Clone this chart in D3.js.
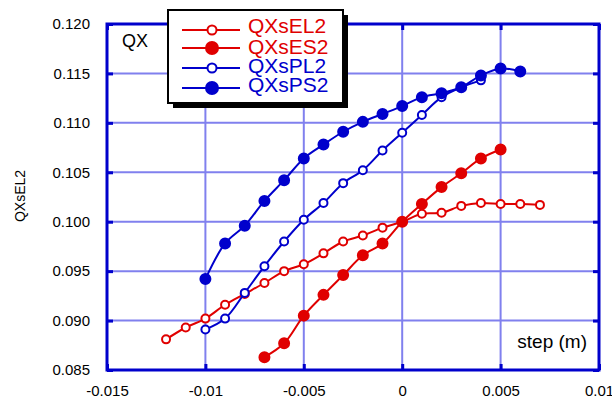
<!DOCTYPE html>
<html>
<head>
<meta charset="utf-8">
<script src="https://cdn.jsdelivr.net/npm/d3@7"></script>
<style>
  body { margin: 0; background: #fff; }
  text { font-family: Arial, "Liberation Sans", sans-serif; }
</style>
</head>
<body>
<div id="chart"></div>
<script>
// data
const xTicks = [-0.015, -0.01, -0.005, 0, 0.005, 0.01];
const xTickLabels = ['-0.015', '-0.01', '-0.005', '0', '0.005', '0.01'];
const yTicks = [0.085, 0.090, 0.095, 0.100, 0.105, 0.110, 0.115, 0.120];

const stepEL = [-0.012, -0.011, -0.010, -0.009, -0.008, -0.007, -0.006, -0.005, -0.004, -0.003, -0.002, -0.001, 0, 0.001, 0.002, 0.003, 0.004, 0.005, 0.006, 0.007];
const qxsEL2 = [0.0881, 0.0893, 0.0902, 0.0916, 0.0927, 0.0938, 0.0950, 0.0957, 0.0968, 0.0980, 0.0986, 0.0994, 0.1000, 0.1008, 0.1009, 0.1016, 0.1019, 0.1018, 0.1018, 0.1017];

const stepES = [-0.007, -0.006, -0.005, -0.004, -0.003, -0.002, -0.001, 0, 0.001, 0.002, 0.003, 0.004, 0.005];
const qxsES2 = [0.0863, 0.0877, 0.0905, 0.0926, 0.0946, 0.0966, 0.0978, 0.1000, 0.1018, 0.1035, 0.1049, 0.1064, 0.1073];

const stepPL = [-0.010, -0.009, -0.008, -0.007, -0.006, -0.005, -0.004, -0.003, -0.002, -0.001, 0, 0.001, 0.002, 0.003, 0.004];
const qxsPL2 = [0.0891, 0.0902, 0.0928, 0.0955, 0.0980, 0.1002, 0.1019, 0.1039, 0.1052, 0.1072, 0.1090, 0.1108, 0.1126, 0.1136, 0.1143];

const stepPS = [-0.010, -0.009, -0.008, -0.007, -0.006, -0.005, -0.004, -0.003, -0.002, -0.001, 0, 0.001, 0.002, 0.003, 0.004, 0.005, 0.006];
const qxsPS2 = [0.0942, 0.0978, 0.0996, 0.1021, 0.1042, 0.1064, 0.1078, 0.1091, 0.1101, 0.1109, 0.1117, 0.1126, 0.1130, 0.1136, 0.1148, 0.1155, 0.1152];

const red = '#e00000';
const blue = '#0000cc';

const series = [
    { name: 'QXsEL2', xs: stepEL, ys: qxsEL2, color: red, filled: false },
    { name: 'QXsES2', xs: stepES, ys: qxsES2, color: red, filled: true },
    { name: 'QXsPL2', xs: stepPL, ys: qxsPL2, color: blue, filled: false },
    { name: 'QXsPS2', xs: stepPS, ys: qxsPS2, color: blue, filled: true }
];

const W = 612, H = 401;
const pLeft = 107, pRight = 599, pTop = 24, pBottom = 370;

const x = d3.scaleLinear().domain([-0.015, 0.01]).range([pLeft, pRight]);
const y = d3.scaleLinear().domain([0.085, 0.120]).range([pBottom, pTop]);

const svg = d3.select('#chart')
    .append('svg')
    .attr('width', W)
    .attr('height', H);

// grid
svg.append('g')
    .selectAll('line')
    .data(xTicks)
    .enter()
    .append('line')
    .attr('x1', d => x(d)).attr('x2', d => x(d))
    .attr('y1', pTop).attr('y2', pBottom)
    .attr('stroke', '#8080ee')
    .attr('stroke-width', 2);

svg.append('g')
    .selectAll('line')
    .data(yTicks)
    .enter()
    .append('line')
    .attr('x1', pLeft).attr('x2', pRight)
    .attr('y1', d => y(d)).attr('y2', d => y(d))
    .attr('stroke', '#8080ee')
    .attr('stroke-width', 2);

// axes with inward ticks, labels drawn by the axis
const xAxis = svg.append('g')
    .attr('transform', `translate(0,${pBottom})`)
    .call(d3.axisBottom(x).tickValues(xTicks).tickSize(-6).tickPadding(15)
        .tickFormat((d, i) => xTickLabels[i]));
const yAxis = svg.append('g')
    .attr('transform', `translate(${pLeft},0)`)
    .call(d3.axisLeft(y).tickValues(yTicks).tickSize(-6).tickPadding(17)
        .tickFormat(d3.format('.3f')));
svg.append('g')
    .attr('transform', `translate(0,${pTop})`)
    .call(d3.axisTop(x).tickValues(xTicks).tickSize(-6).tickFormat(''));
svg.append('g')
    .attr('transform', `translate(${pRight},0)`)
    .call(d3.axisRight(y).tickValues(yTicks).tickSize(-6).tickFormat(''));

svg.selectAll('.domain').remove();
svg.selectAll('.tick line').attr('stroke', blue).attr('stroke-width', 3);
xAxis.selectAll('text').attr('font-size', 15).attr('fill', '#000');
yAxis.selectAll('text').attr('font-size', 15).attr('fill', '#000');

// frame
svg.append('rect')
    .attr('x', pLeft).attr('y', pTop)
    .attr('width', pRight - pLeft).attr('height', pBottom - pTop)
    .attr('fill', 'none')
    .attr('stroke', blue)
    .attr('stroke-width', 3);

// series
const line = d3.line()
    .x(d => x(d[0]))
    .y(d => y(d[1]))
    .curve(d3.curveCatmullRom);

series.forEach(s => {
    const pts = s.xs.map((v, i) => [v, s.ys[i]]);
    svg.append('path')
        .datum(pts)
        .attr('d', line)
        .attr('fill', 'none')
        .attr('stroke', s.color)
        .attr('stroke-width', 2);
    svg.append('g')
        .selectAll('circle')
        .data(pts)
        .enter()
        .append('circle')
        .attr('cx', d => x(d[0]))
        .attr('cy', d => y(d[1]))
        .attr('r', s.filled ? 5 : 4)
        .attr('fill', s.filled ? s.color : '#fff')
        .attr('stroke', s.color)
        .attr('stroke-width', 2);
});

// annotations
svg.append('text')
    .attr('x', 122).attr('y', 47)
    .attr('font-size', 18)
    .text('QX');

svg.append('text')
    .attr('x', 587).attr('y', 348)
    .attr('text-anchor', 'end')
    .attr('font-size', 19)
    .text('step (m)');

svg.append('text')
    .attr('transform', 'translate(25,196) rotate(-90)')
    .attr('text-anchor', 'middle')
    .attr('font-size', 14)
    .text('QXsEL2');

// legend
const lg = svg.append('g');
lg.append('rect')
    .attr('x', 173).attr('y', 15)
    .attr('width', 175).attr('height', 93)
    .attr('fill', '#000');
lg.append('rect')
    .attr('x', 168).attr('y', 10)
    .attr('width', 175).attr('height', 93)
    .attr('fill', '#fff')
    .attr('stroke', '#000')
    .attr('stroke-width', 2);

const rowY = [30, 48, 68, 88];
const textY = [33, 54, 73, 92];

const rows = lg.selectAll('g.row')
    .data(series)
    .enter()
    .append('g')
    .attr('class', 'row');

rows.append('line')
    .attr('x1', 182).attr('x2', 240)
    .attr('y1', (d, i) => rowY[i]).attr('y2', (d, i) => rowY[i])
    .attr('stroke', d => d.color)
    .attr('stroke-width', 2);
rows.append('circle')
    .attr('cx', 212)
    .attr('cy', (d, i) => rowY[i])
    .attr('r', d => d.filled ? 6 : 4.5)
    .attr('fill', d => d.filled ? d.color : '#fff')
    .attr('stroke', d => d.color)
    .attr('stroke-width', 2);
rows.append('text')
    .attr('x', 248)
    .attr('y', (d, i) => textY[i])
    .attr('font-size', 21)
    .attr('fill', d => d.color)
    .text(d => d.name);
</script>
</body>
</html>
